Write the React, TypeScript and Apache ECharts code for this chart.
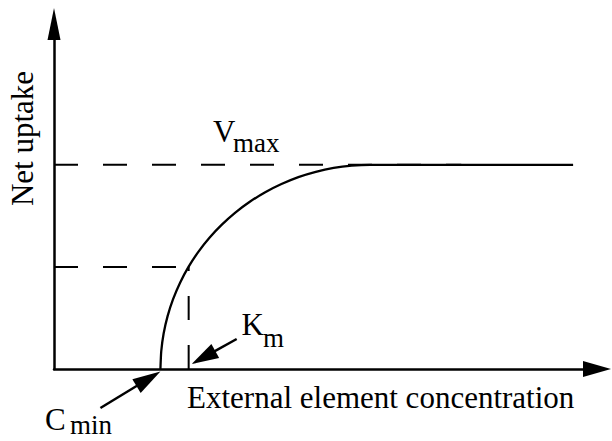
import React, { useEffect, useRef } from "react";
import * as echarts from "echarts";

// Axis ranges (arbitrary units)
const X_MAX = 100;
const Y_MAX = 169;

// Kinetic parameters of the uptake curve
const V_MAX = 100;
const HALF_V = 50;
const C_MIN = 19.6;
const K_M = 24.8;
const VMAX_GUIDE_END = 75;

// Net uptake vs. external concentration
const uptakeX = [19.6, 19.75, 20.19, 20.92, 21.93, 23.22, 24.77, 26.58, 28.63, 30.91, 33.39, 36.06, 38.9, 41.89, 45.0, 48.21, 51.5, 54.83, 58.2, 95.6];
const uptakeY = [0, 8.7, 17.4, 25.9, 34.2, 42.3, 50, 57.4, 64.3, 70.7, 76.6, 81.9, 86.6, 90.6, 94.0, 96.6, 98.5, 99.6, 100, 100];

const axisTitles = { x: "External element concentration", y: "Net uptake" };

const SERIF = "'Liberation Serif', 'Times New Roman', serif";
const BIG = 31;
const SMALL = 27;
const CENTRAL = 0.3375; // central baseline offset (em) above alphabetic baseline

function label(text: string, left: number, baseline: number, size: number) {
  return {
    type: "text",
    silent: true,
    style: {
      text,
      x: left,
      y: baseline - CENTRAL * size,
      font: `${size}px ${SERIF}`,
      fill: "#000",
      align: "left",
      verticalAlign: "middle",
      textAlign: "left",
      textVerticalAlign: "middle",
    },
  };
}

function arrow(tip: number[], tail: number[], headLen: number, headW: number) {
  const dx = tip[0] - tail[0];
  const dy = tip[1] - tail[1];
  const len = Math.hypot(dx, dy);
  const ux = dx / len;
  const uy = dy / len;
  const bx = tip[0] - ux * headLen;
  const by = tip[1] - uy * headLen;
  const px = (-uy * headW) / 2;
  const py = (ux * headW) / 2;
  return [
    {
      type: "line",
      silent: true,
      shape: { x1: tail[0], y1: tail[1], x2: bx + ux * 2, y2: by + uy * 2 },
      style: { stroke: "#000", lineWidth: 2.5 },
    },
    {
      type: "polygon",
      silent: true,
      shape: { points: [[tip[0], tip[1]], [bx + px, by + py], [bx - px, by - py]] },
      style: { fill: "#000" },
    },
  ];
}

const dashed = { color: "#000", width: 2, type: [24, 25] as number[] };

export default function App() {
  const ref = useRef<HTMLDivElement>(null);

  useEffect(() => {
    if (!ref.current) return;
    const chart = echarts.init(ref.current, null, { renderer: "svg" });

    const axisCommon = {
      type: "value",
      min: 0,
      axisTick: { show: false },
      axisLabel: { show: false },
      splitLine: { show: false },
    };

    chart.setOption({
      animation: false,
      backgroundColor: "#fff",
      textStyle: { fontFamily: SERIF },
      grid: { left: 54, right: 15, top: 24, bottom: 72 },
      xAxis: {
        ...axisCommon,
        max: X_MAX,
        axisLine: {
          show: true,
          symbol: ["none", "triangle"],
          symbolSize: [16, 28],
          lineStyle: { color: "#000", width: 2.5 },
        },
      },
      yAxis: {
        ...axisCommon,
        max: Y_MAX,
        axisLine: {
          show: true,
          symbol: ["none", "triangle"],
          symbolSize: [13, 32],
          lineStyle: { color: "#000", width: 2.5 },
        },
      },
      series: [
        {
          name: "Vmax guide",
          type: "line",
          showSymbol: false,
          silent: true,
          data: [[0, V_MAX], [VMAX_GUIDE_END, V_MAX]],
          lineStyle: dashed,
        },
        {
          name: "Half Vmax guide",
          type: "line",
          showSymbol: false,
          silent: true,
          data: [[0, HALF_V], [K_M, HALF_V]],
          lineStyle: dashed,
        },
        {
          name: "Km guide",
          type: "line",
          showSymbol: false,
          silent: true,
          data: [[K_M, 0], [K_M, HALF_V]],
          lineStyle: dashed,
        },
        {
          name: "Net uptake",
          type: "line",
          showSymbol: false,
          silent: true,
          smooth: 0.2,
          data: uptakeX.map((x, i) => [x, uptakeY[i]]),
          lineStyle: { color: "#000", width: 2.3 },
        },
      ],
    });

    const cminPx = chart.convertToPixel({ gridIndex: 0 }, [C_MIN, 0]) as number[];
    const kmPx = chart.convertToPixel({ gridIndex: 0 }, [K_M, 0]) as number[];
    const vmaxPx = chart.convertToPixel({ gridIndex: 0 }, [0, V_MAX]) as number[];

    // arrow tips sit just off the axis, pointing at Cmin and Km
    const cminTip = [cminPx[0], cminPx[1] + 2.5];
    const kmTip = [kmPx[0] + 3, kmPx[1] - 5];

    chart.setOption({
      graphic: [
        ...arrow(cminTip, [cminTip[0] - 60, cminTip[1] + 36.5], 28, 16),
        ...arrow(kmTip, [kmTip[0] + 45, kmTip[1] - 25], 27, 16),
        label("V", 213, vmaxPx[1] - 22.5, BIG),
        label("max", 233, vmaxPx[1] - 12.5, SMALL),
        label("K", 241.5, 335, BIG),
        label("m", 263, 347, SMALL),
        label("C", 45, 430, BIG),
        label("min", 70, 434.5, SMALL),
        label(axisTitles.x, 187, 408, BIG),
        {
          type: "text",
          silent: true,
          x: 22.5,
          y: 138.5,
          rotation: Math.PI / 2,
          style: {
            text: axisTitles.y,
            x: 0,
            y: 0,
            font: `${BIG}px ${SERIF}`,
            fill: "#000",
            align: "center",
            verticalAlign: "middle",
            textAlign: "center",
            textVerticalAlign: "middle",
          },
        },
      ],
    });

    return () => chart.dispose();
  }, []);

  return (
    <div
      ref={ref}
      style={{ position: "fixed", left: 0, top: 0, width: 612, height: 441, background: "#fff" }}
    />
  );
}
